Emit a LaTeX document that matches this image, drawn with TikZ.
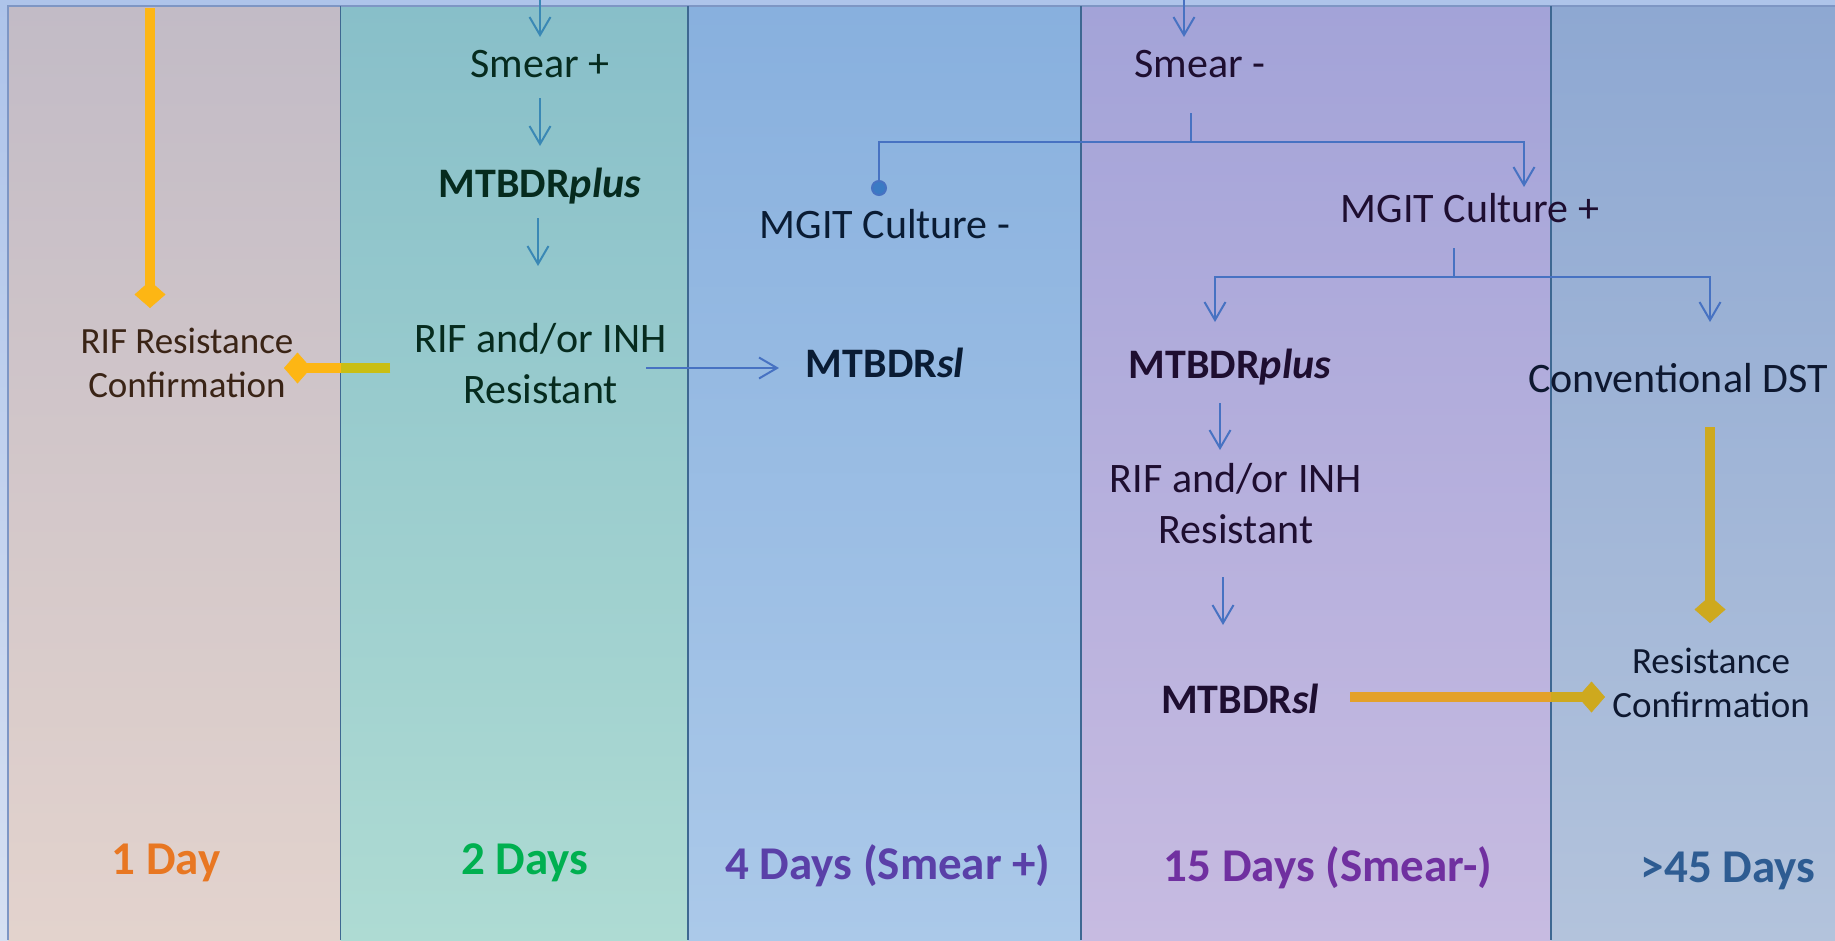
\documentclass[tikz,border=0pt]{standalone}
\usepackage{fontspec}
\setmainfont{Carlito}
\usetikzlibrary{arrows.meta}
\definecolor{outtop}{HTML}{AEC4EA}
\definecolor{outbot}{HTML}{D6E0F2}
\definecolor{cAt}{HTML}{C2BBC6}\definecolor{cAb}{HTML}{E3D3CD}
\definecolor{cBt}{HTML}{88BFC9}\definecolor{cBb}{HTML}{AEDBD3}
\definecolor{cCt}{HTML}{88B0DE}\definecolor{cCb}{HTML}{ABC9E9}
\definecolor{cDt}{HTML}{A3A3D8}\definecolor{cDb}{HTML}{C7BBE1}
\definecolor{cEt}{HTML}{8EA8D2}\definecolor{cEb}{HTML}{B3C3DC}
\definecolor{sepline}{HTML}{3E6892}
\definecolor{edgeline}{HTML}{7E96C4}
\definecolor{tA}{HTML}{3A2416}
\definecolor{tB}{HTML}{062B1E}
\definecolor{tC}{HTML}{0A1C34}
\definecolor{tD}{HTML}{1E0E30}
\definecolor{tE}{HTML}{0E1830}
\definecolor{ylw}{HTML}{FDB614}
\definecolor{olv}{HTML}{C9BE13}
\definecolor{orng}{HTML}{E3A12A}
\definecolor{gld}{HTML}{CEA91E}
\definecolor{flowB}{HTML}{3A88B5}
\definecolor{flowD}{HTML}{4772C2}
\definecolor{dotc}{HTML}{3A7AC4}
\definecolor{dayA}{HTML}{E87722}
\definecolor{dayB}{HTML}{00B050}
\definecolor{dayC}{HTML}{5A40A8}
\definecolor{dayD}{HTML}{7030A0}
\definecolor{dayE}{HTML}{2E5C92}
\tikzset{
  lbl/.style={inner sep=0pt, outer sep=0pt, anchor=base, font=\fontsize{42}{51}\selectfont, text height=29pt, text depth=9pt},
  mlbl/.style={inner sep=0pt, outer sep=0pt, anchor=base, align=center, font=\fontsize{42}{51}\selectfont},
  smlbl/.style={inner sep=0pt, outer sep=0pt, anchor=base, align=center, font=\fontsize{37}{44}\selectfont},
  daylbl/.style={inner sep=0pt, outer sep=0pt, anchor=base, font=\fontsize{47}{56}\selectfont\bfseries},
  conn/.style={line width=2pt, draw=flowD},
  flowarrow/.style={conn, -{Straight Barb[length=18pt,width=21pt]}},
  fatline/.style={line width=10pt},
  diamtip/.style={-{Diamond[length=27pt,width=31pt,line width=0.5pt]}},
}
\begin{document}
\begin{tikzpicture}[x=1pt,y=-1pt]
\useasboundingbox (0,0) rectangle (1835,940);
% background and columns
\shade[top color=outtop, bottom color=outbot] (0,0) rectangle (1835,940);
\shade[top color=cAt, bottom color=cAb] (8,6) rectangle (340.5,940);
\shade[top color=cBt, bottom color=cBb] (340.5,6) rectangle (688,940);
\shade[top color=cCt, bottom color=cCb] (688,6) rectangle (1081,940);
\shade[top color=cDt, bottom color=cDb] (1081,6) rectangle (1551,940);
\shade[top color=cEt, bottom color=cEb] (1551,6) rectangle (1835,940);
\draw[edgeline, line width=1.5pt] (8,940) -- (8,6) -- (1835,6);
\foreach \xx in {340.5,688,1081,1551} \draw[sepline, line width=1.6pt] (\xx,6) -- (\xx,940);
\coordinate (colAB) at (340.5,0);
\coordinate (colDE) at (1551,0);

% nodes (multi-line nodes are placed by the baseline of their last line)
\node[lbl, text=tB] (smearP) at (540,77) {Smear +};
\node[lbl, text=tB] (plusA) at (540,197) {\textbf{MTBDR\textit{plus}}};
\node[mlbl, text=tB] (rifA) at (540.6,403) {RIF and/or INH\\Resistant};
\node[smlbl, text=tA] (rifConf) at (187,397) {RIF Resistance\\Confirmation};
\node[lbl, text=tC] (slA) at (885,377) {\textbf{MTBDR\textit{sl}}};
\node[lbl, text=tD] (smearM) at (1200,77) {Smear -};
\node[lbl, text=tC] (mgitM) at (885,238) {MGIT Culture -};
\node[lbl, text=tD] (mgitP) at (1470,222) {MGIT Culture +};
\node[lbl, text=tD] (plusB) at (1230,378) {\textbf{MTBDR\textit{plus}}};
\node[lbl, text=tE] (conv) at (1678,392) {Conventional DST};
\node[mlbl, text=tD] (rifB) at (1236,543) {RIF and/or INH\\Resistant};
\node[lbl, text=tD] (slB) at (1240,713) {\textbf{MTBDR\textit{sl}}};
\node[smlbl, text=tE] (resConf) at (1711,717) {Resistance\\Confirmation};

\node[daylbl, text=dayA] (dA) at (166,874) {1 Day};
\node[daylbl, text=dayB] (dB) at (525,874) {2 Days};
\node[daylbl, text=dayC] (dC) at (888,879) {4 Days (Smear +)};
\node[daylbl, text=dayD] (dD) at (1328,881) {15 Days (Smear-)};
\node[daylbl, text=dayE] (dE) at (1728,882) {>45 Days};

% coordinates for connector ends
\coordinate (inA) at (150,8);
\coordinate (rifConfT) at (150,308);
\coordinate (rifAleft) at (390,368);
\coordinate (rifConfR) at (284,368);
\coordinate (inB) at (540,0);
\coordinate (rifAtop) at (538,266);
\coordinate (rifAout) at (646,368);
\coordinate (inD) at (1184,0);
\coordinate (smJ) at (1191,142);
\coordinate (mgMtop) at (879,196);
\coordinate (mgPtop) at (1524,187);
\coordinate (mpJ) at (1454,277);
\coordinate (plusBtop) at (1215,322);
\coordinate (convTop) at (1710,322);
\coordinate (rifBtop) at (1220,450);
\coordinate (rifBbot) at (1223,577);
\coordinate (slBtop) at (1223,625);
\coordinate (slBr) at (1350,697);
\coordinate (resConfL) at (1605,697);
\coordinate (convBot) at (1710,427);
\coordinate (resConfT) at (1710,623);

% column 1/2 connectors
\draw[fatline, draw=ylw, fill=ylw, diamtip] (inA) -- (rifConfT);
\draw[fatline, draw=ylw, fill=ylw, diamtip] (rifAleft) -- (rifConfR);
\draw[fatline, draw=olv] (rifAleft) -- (rifAleft -| colAB);
\draw[flowarrow, draw=flowB, shorten >=11pt] (inB) -- (smearP.north);
\draw[flowarrow, draw=flowB, shorten <=12pt, shorten >=22pt] (smearP) -- (plusA);
\draw[flowarrow, draw=flowB, shorten <=12pt] (plusA.south -| rifAtop) -- (rifAtop);
\draw[flowarrow, shorten >=27pt] (rifAout) -- (slA.west |- rifAout);

% column 4 connectors
\draw[flowarrow, shorten >=11pt] (inD) -- (smearM.north -| inD);
\draw[conn, shorten <=27pt] (smearM.south -| smJ) -- (smJ);
\draw[conn, -{Circle[length=16pt, fill=dotc]}] (smJ) -| (mgMtop);
\draw[flowarrow] (smJ) -| (mgPtop);
\draw[conn, shorten <=17pt] (mgitP.south -| mpJ) -- (mpJ);
\draw[flowarrow] (mpJ) -| (plusBtop);
\draw[flowarrow] (mpJ) -| (convTop);
\draw[flowarrow, shorten <=16pt] (plusB.south -| rifBtop) -- (rifBtop);
\draw[flowarrow] (rifBbot) -- (slBtop);

% resistance confirmation connectors
\draw[fatline, draw=gld, fill=gld, diamtip] (slBr) -- (resConfL);
\draw[fatline, draw=orng] (slBr) -- (slBr -| colDE);
\draw[fatline, draw=gld, fill=gld, diamtip] (convBot) -- (resConfT);
\end{tikzpicture}
\end{document}
